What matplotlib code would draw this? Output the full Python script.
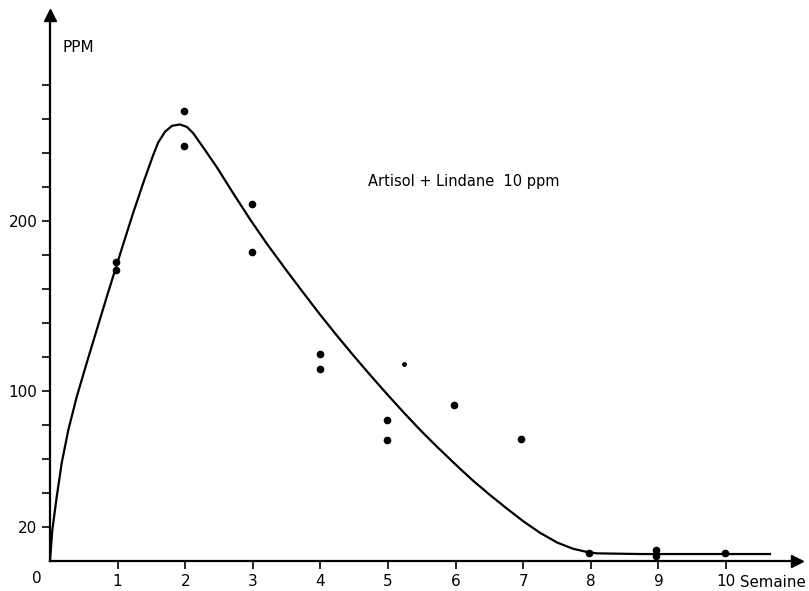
import numpy as np
import matplotlib.pyplot as plt

# measured points (semaine, ppm)
weeks = [0.98, 0.98, 1.98, 1.98, 2.99, 2.99, 4.0, 4.0, 4.99, 4.99,
         5.98, 6.97, 7.97, 8.96, 8.96, 9.98]
ppm = [176, 171, 265, 244, 210, 182, 122, 113, 83, 71,
       92, 72, 5, 6.5, 3, 5]

# stray small mark near week 5.2
stray_x = [5.24]
stray_y = [116]

# fitted curve
curve_x = [0, 0.034, 0.099, 0.173, 0.271, 0.395, 0.543, 0.691, 0.839, 0.962,
           1.080, 1.228, 1.376, 1.524, 1.598, 1.701, 1.805, 1.923, 2.027,
           2.115, 2.263, 2.470, 2.707, 2.959, 3.210, 3.506, 3.743, 3.994,
           4.246, 4.482, 4.734, 4.985, 5.222, 5.473, 5.725, 6.065, 6.257,
           6.509, 6.760, 6.997, 7.249, 7.500, 7.737, 7.944, 8.092, 8.728,
           10.65]
curve_y = [0, 18.2, 37.6, 57.6, 77.1, 96.5, 116.5, 135.9, 155.3, 171.0,
           186.0, 204.5, 222.0, 238.5, 246.0, 252.5, 256.0, 256.8, 255.3,
           251.8, 243.5, 231.5, 216.5, 201.0, 186.5, 170.5, 158.0, 145.0,
           132.5, 121.2, 109.5, 98.2, 87.8, 77.2, 67.2, 54.3, 47.3,
           38.8, 30.8, 23.5, 16.6, 10.9, 7.2, 5.3, 4.5, 4.1,
           4.1]

xticks = list(range(1, 11))
yticks = list(range(20, 281, 20))
ylabels = {20: "20", 100: "100", 200: "200"}

W, H = 809, 591
fig = plt.figure(figsize=(W / 100, H / 100), dpi=100)
xpx, ypx = 67.6, 1.7
xmax, ymax = 11.05, 321
ax = fig.add_axes([50 / W, 30 / H, xmax * xpx / W, ymax * ypx / H])
ax.set_xlim(0, xmax)
ax.set_ylim(0, ymax)

for s in ["top", "right"]:
    ax.spines[s].set_visible(False)
for s in ["left", "bottom"]:
    ax.spines[s].set_linewidth(1.6)

ax.plot(1, 0, ">k", markersize=9, transform=ax.get_yaxis_transform(), clip_on=False)
ax.plot(0, 1, "^k", markersize=9, transform=ax.get_xaxis_transform(), clip_on=False)

ax.set_xticks(xticks)
ax.set_xticklabels([str(t) for t in xticks])
ax.set_yticks(yticks)
ax.set_yticklabels([ylabels.get(t, "") for t in yticks])
ax.tick_params(axis="both", direction="out", length=6, width=1.2,
               labelsize=11, pad=3)

ax.plot(curve_x, curve_y, color="black", linewidth=1.6, clip_on=False,
        solid_joinstyle="round")
ax.plot(weeks, ppm, "o", color="black", markersize=4.5, clip_on=False)
ax.plot(stray_x, stray_y, "o", color="black", markersize=2.5)

ax.text(-0.2, -6, "0", fontsize=11, ha="center", va="top")
ax.text(0.18, 302, "PPM", fontsize=11, ha="left", va="center")
ax.text(10.2, -8, "Semaine", fontsize=10.8, ha="left", va="top", clip_on=False)
ax.text(4.7, 223, "Artisol + Lindane  10 ppm", fontsize=10.5, ha="left", va="center")

fig.savefig("out.png", dpi=100)
